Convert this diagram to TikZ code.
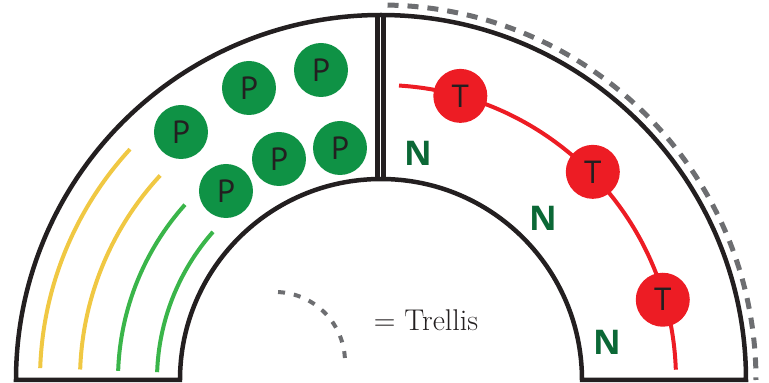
\documentclass[tikz,border=0pt]{standalone}
\usepackage{fontspec}
\newfontfamily\plantfont{PT Sans}
\newfontfamily\weedfont{Open Sans}
\definecolor{outline}{HTML}{231F20}
\definecolor{pgreen}{HTML}{0F9245}
\definecolor{tred}{HTML}{ED1C24}
\definecolor{ngreen}{HTML}{0B6836}
\definecolor{rowyellow}{HTML}{F0C843}
\definecolor{rowgreen}{HTML}{3AB54A}
\definecolor{tgray}{HTML}{6D6E71}
\begin{document}
\begin{tikzpicture}[x=1pt, y=1pt,
	plant/.style={circle, fill=pgreen, minimum size=54pt, inner sep=0pt, text=outline, font=\plantfont\fontsize{32}{32}\selectfont},
	tomato/.style={plant, fill=tred},
	weed/.style={text=ngreen, font=\weedfont\bfseries\fontsize{34}{34}\selectfont},
	trellis/.style={draw=tgray, line width=5pt, dash pattern=on 11pt off 9pt},
	croprow/.style={line width=4pt}]
	\useasboundingbox (-381,-3) rectangle (388,380);
	
	% bed
	\draw[outline, line width=4.5pt] (-365,0) arc (180:0:365) -- (201,0) arc (0:180:201) -- cycle;
	\draw[outline, line width=5pt] (-3.5,199) -- (-3.5,364);
	\draw[outline, line width=5pt] (2.8,199) -- (2.8,364);
	\draw[trellis] (89:375) arc (89:0:375);
	
	% rows
	\foreach \r/\a/\c in {341/137.4/rowyellow, 301/137.2/rowyellow, 263/138.2/rowgreen, 224/138.6/rowgreen}
	\draw[draw=\c, croprow] (178:\r) arc (178:\a:\r);
	
	% plants
	\node[plant] (p1) at (-200,248) {P};
	\node[plant] (p2) at (-132,292) {P};
	\node[plant] (p3) at (-60,310) {P};
	\node[plant] (p4) at (-155,189) {P};
	\node[plant] (p5) at (-102,221) {P};
	\node[plant] (p6) at (-41,232) {P};
	
	% tomatoes on the vine
	\draw[tred, line width=4pt] (86.5:295) arc (86.5:2:295);
	\node[tomato] (t1) at (74.4:295) {T};
	\node[tomato] (t2) at (44.5:297) {T};
	\node[tomato] (t3) at (15.9:293) {T};
	
	\node[weed] (n1) at (37,227) {N};
	\node[weed] (n2) at (162,162) {N};
	\node[weed] (n3) at (226,38) {N};
	
	% key
	\draw[trellis, line width=4pt, dash pattern=on 7pt off 9pt] (-106,18) ++(87.5:70) arc (87.5:3.3:70);
	\node[anchor=base west, text=outline, font=\fontsize{30}{30}\selectfont] (key) at (-10.7,49) {= Trellis};
\end{tikzpicture}
\end{document}
